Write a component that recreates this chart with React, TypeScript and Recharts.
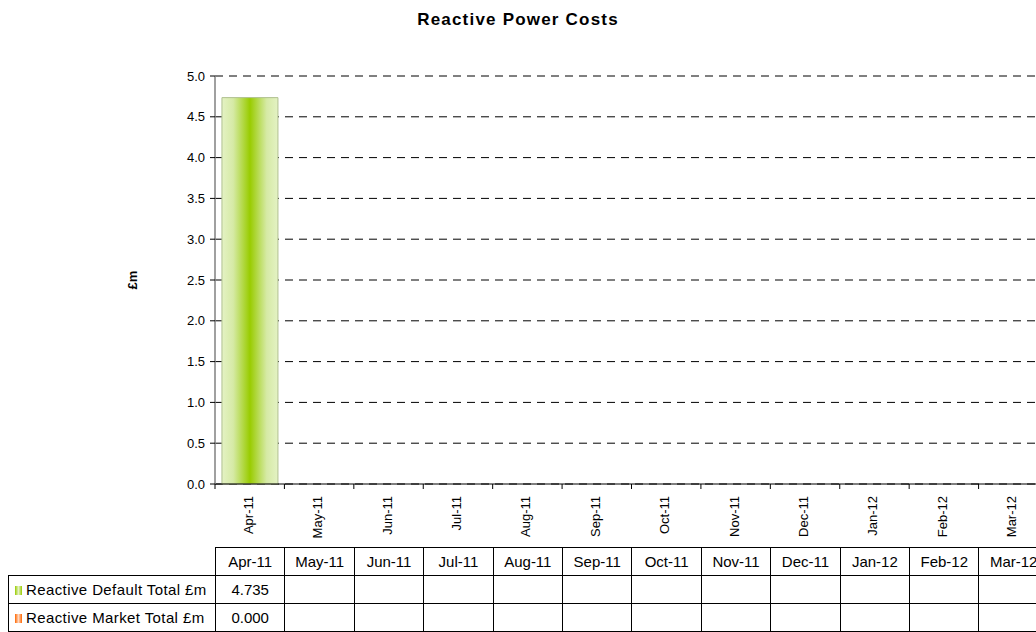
import { Bar, BarChart, CartesianGrid, XAxis, YAxis, Label } from 'recharts';

const MONTHS = ['Apr-11', 'May-11', 'Jun-11', 'Jul-11', 'Aug-11', 'Sep-11', 'Oct-11', 'Nov-11', 'Dec-11', 'Jan-12', 'Feb-12', 'Mar-12'];
const DEFAULT_TOTAL: (number | null)[] = [4.735, null, null, null, null, null, null, null, null, null, null, null];
const MARKET_TOTAL: (number | null)[] = [0, null, null, null, null, null, null, null, null, null, null, null];
const Y_TICKS = [0, 0.5, 1, 1.5, 2, 2.5, 3, 3.5, 4, 4.5, 5];

const FONT = '"Liberation Sans", Arial, sans-serif';
const CHART_W = 1050;
const PLOT_LEFT = 215;
const PLOT_W = 833;
const CAT_W = PLOT_W / MONTHS.length;

const data = MONTHS.map((m, i) => ({ month: m, def: DEFAULT_TOTAL[i], mkt: MARKET_TOTAL[i] }));

function MonthTick(props: any) {
  const { x, y, payload, index } = props;
  const left = x - CAT_W / 2;
  return (
    <g>
      <line x1={left} x2={left} y1={y} y2={y + 5} stroke="#000" />
      {index === MONTHS.length - 1 && <line x1={x + CAT_W / 2} x2={x + CAT_W / 2} y1={y} y2={y + 5} stroke="#000" />}
      <text x={x + 3} y={y + 12} transform={`rotate(-90, ${x + 3}, ${y + 12})`} textAnchor="end" fontSize={13} fill="#000" fontFamily={FONT}>
        {payload.value}
      </text>
    </g>
  );
}

const fmt = (v: number | null) => (v == null ? '' : v.toFixed(3));

const cell: React.CSSProperties = { border: '1px solid #000', height: 27, padding: 0, textAlign: 'center', fontSize: 15 };
const labelCell: React.CSSProperties = { ...cell, textAlign: 'left', paddingLeft: 6, whiteSpace: 'nowrap', letterSpacing: 0.4 };

export default function App() {
  return (
    <div style={{ position: 'absolute', left: 0, top: 0, width: 1036, height: 632, overflow: 'hidden', background: '#fff', fontFamily: FONT }}>
      <div style={{ position: 'absolute', top: 10, left: 0, width: 1036, textAlign: 'center', fontWeight: 'bold', fontSize: 17, letterSpacing: 1.2 }}>
        Reactive Power Costs
      </div>
      <div style={{ position: 'absolute', left: 0, top: 0 }}>
        <BarChart width={CHART_W} height={548} data={data} margin={{ top: 76, right: CHART_W - PLOT_LEFT - PLOT_W, left: 0, bottom: 0 }}>
          <defs>
            <linearGradient id="greenBar" x1="0" y1="0" x2="1" y2="0">
              <stop offset="0" stopColor="#e4f2c4" />
              <stop offset="0.2" stopColor="#d6eaa6" />
              <stop offset="0.5" stopColor="#99cc00" />
              <stop offset="0.8" stopColor="#d6eaa6" />
              <stop offset="1" stopColor="#e4f2c4" />
            </linearGradient>
            <linearGradient id="orangeBar" x1="0" y1="0" x2="1" y2="0">
              <stop offset="0" stopColor="#ffd8c0" />
              <stop offset="0.5" stopColor="#ff6600" />
              <stop offset="1" stopColor="#ffd8c0" />
            </linearGradient>
          </defs>
          <CartesianGrid vertical={false} stroke="#000" strokeDasharray="8 6" />
          <XAxis dataKey="month" height={64} tickSize={0} tickMargin={0} tickLine={false} axisLine={{ stroke: '#000' }} tick={<MonthTick />} interval={0} />
          <YAxis
            width={PLOT_LEFT}
            domain={[0, 5]}
            ticks={Y_TICKS}
            tickFormatter={(v: number) => v.toFixed(1)}
            tickSize={5}
            tickMargin={5}
            tick={{ fontSize: 13, fill: '#000', fontFamily: FONT }}
            tickLine={{ stroke: '#000' }}
            axisLine={{ stroke: '#808080', strokeWidth: 1.5 }}
          >
            <Label
              content={({ viewBox }: any) => {
                const cy = viewBox.y + viewBox.height / 2;
                return (
                  <text x={137} y={cy} transform={`rotate(-90, 137, ${cy})`} textAnchor="middle" fontSize={13} fontWeight="bold" fontFamily={FONT} fill="#000">
                    £m
                  </text>
                );
              }}
            />
          </YAxis>
          <Bar dataKey="def" stackId="a" fill="url(#greenBar)" stroke="#b0c090" strokeWidth={1} isAnimationActive={false} />
          <Bar dataKey="mkt" stackId="a" fill="url(#orangeBar)" isAnimationActive={false} />
        </BarChart>
      </div>
      <table style={{ position: 'absolute', left: 8, top: 547, borderCollapse: 'collapse', tableLayout: 'fixed', width: 207 + PLOT_W, fontFamily: FONT }}>
        <colgroup>
          <col style={{ width: 207 }} />
          {MONTHS.map((m) => (
            <col key={m} style={{ width: CAT_W }} />
          ))}
        </colgroup>
        <tbody>
          <tr>
            <td style={{ ...cell, border: 'none' }} />
            {MONTHS.map((m) => (
              <td key={m} style={cell}>{m}</td>
            ))}
          </tr>
          <tr>
            <td style={labelCell}>
              <span style={{ display: 'inline-block', width: 7, height: 9, marginRight: 4, background: 'linear-gradient(to right, #99cc00, #e4f2c4, #99cc00)' }} />
              Reactive Default Total £m
            </td>
            {DEFAULT_TOTAL.map((v, i) => (
              <td key={i} style={cell}>{fmt(v)}</td>
            ))}
          </tr>
          <tr>
            <td style={labelCell}>
              <span style={{ display: 'inline-block', width: 7, height: 9, marginRight: 4, background: 'linear-gradient(to right, #ff6600, #ffd8c0, #ff6600)' }} />
              Reactive Market Total £m
            </td>
            {MARKET_TOTAL.map((v, i) => (
              <td key={i} style={cell}>{fmt(v)}</td>
            ))}
          </tr>
        </tbody>
      </table>
    </div>
  );
}
